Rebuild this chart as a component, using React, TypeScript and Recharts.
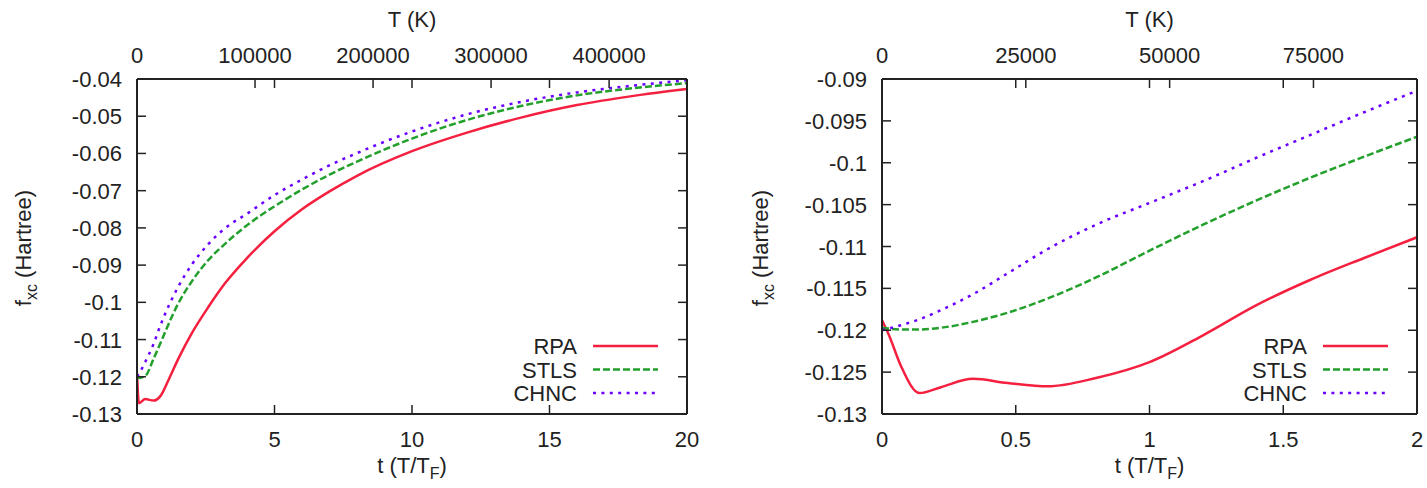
import { LineChart, Line, XAxis, YAxis, Legend } from 'recharts';

const FONT = '"Liberation Sans", Arial, Helvetica, sans-serif';
const INK = '#222';

// ---- left panel (t = T/T_F from 0 to 20) ----
const leftT = [0, 0.07, 0.3, 0.6, 0.85, 1.15, 1.5, 2, 2.6, 3.2, 4, 5, 6, 7, 8, 10, 12, 14, 16, 18, 20];
const leftRPA = [-0.119, -0.1271, -0.126, -0.1264, -0.1252, -0.1208, -0.1152, -0.1082, -0.1012, -0.0949, -0.0881, -0.0809, -0.075, -0.0702, -0.066, -0.0594, -0.0544, -0.0503, -0.047, -0.0446, -0.0427];
const leftSTLS = [-0.12, -0.1203, -0.1198, -0.1152, -0.111, -0.1058, -0.1003, -0.0943, -0.0886, -0.0843, -0.0793, -0.0742, -0.0697, -0.0657, -0.0622, -0.056, -0.051, -0.0472, -0.0444, -0.0425, -0.0411];
const leftCHNC = [-0.12, -0.1192, -0.116, -0.1112, -0.1062, -0.101, -0.0958, -0.0898, -0.0843, -0.0801, -0.0762, -0.0712, -0.067, -0.0632, -0.0599, -0.0541, -0.0495, -0.0461, -0.0436, -0.0418, -0.0403];
const leftTicksT = [0, 5, 10, 15, 20];
const leftTicksK = [0, 100000, 200000, 300000, 400000];
const leftMaxK = 466000;
const leftTicksF = [-0.13, -0.12, -0.11, -0.1, -0.09, -0.08, -0.07, -0.06, -0.05, -0.04];

// ---- right panel (t from 0 to 2) ----
const rightT = [0, 0.025, 0.07, 0.14, 0.22, 0.34, 0.47, 0.62, 0.8, 1, 1.2, 1.4, 1.6, 1.8, 2];
const rightRPA = [-0.1188, -0.1205, -0.1242, -0.1275, -0.1268, -0.1258, -0.1263, -0.1267, -0.1257, -0.1238, -0.1206, -0.117, -0.114, -0.1114, -0.1089];
const rightSTLS = [-0.1197, -0.1198, -0.1199, -0.1199, -0.1197, -0.119, -0.1179, -0.1162, -0.1137, -0.1105, -0.1074, -0.1045, -0.1018, -0.0993, -0.0969];
const rightCHNC = [-0.12, -0.1198, -0.1194, -0.1187, -0.1176, -0.1157, -0.1132, -0.1103, -0.1074, -0.1048, -0.1022, -0.0994, -0.0967, -0.094, -0.0914];
const rightTicksT = [0, 0.5, 1, 1.5, 2];
const rightTicksK = [0, 25000, 50000, 75000];
const rightMaxK = 93000;
const rightTicksF = [-0.13, -0.125, -0.12, -0.115, -0.11, -0.105, -0.1, -0.095, -0.09];

const series = [
  { key: 'rpa', name: 'RPA', color: '#f5203f', dash: undefined as string | undefined },
  { key: 'stls', name: 'STLS', color: '#23a02c', dash: '7 3' },
  { key: 'chnc', name: 'CHNC', color: '#6a00ff', dash: '3 5.4' },
];

// plot box inside each chart (local px)
const PLOT_TOP = 79;
const PLOT_BOTTOM = 414;
const PLOT_LEFT = 137;
const TICK = 9;

const fmt = (v: number) => String(Number(v.toFixed(4)));

function Panel({ left, width, plotRight, t, rpa, stls, chnc, ticksT, ticksK, maxK, ticksF }: any) {
  const rows = t.map((tt: number, i: number) => ({ t: tt, rpa: rpa[i], stls: stls[i], chnc: chnc[i] }));
  const tMax = ticksT[ticksT.length - 1];
  // top axis (kelvin) shares the t scale: T = t * maxK / tMax
  const kTickPos = ticksK.map((k: number) => (k * tMax) / maxK);

  const BottomTick = ({ x, payload }: any) => (
    <g>
      <line x1={x} x2={x} y1={PLOT_BOTTOM} y2={PLOT_BOTTOM - TICK} stroke={INK} strokeWidth={1.5} />
      <line x1={x} x2={x} y1={PLOT_TOP} y2={PLOT_TOP + TICK} stroke={INK} strokeWidth={1.5} />
      <text x={x} y={447} textAnchor="middle" fontSize={22} fill={INK} fontFamily={FONT}>{fmt(payload.value)}</text>
    </g>
  );
  const TopTick = ({ x, payload }: any) => (
    <g>
      <line x1={x} x2={x} y1={PLOT_TOP} y2={PLOT_TOP + TICK} stroke={INK} strokeWidth={1.5} />
      <text x={x} y={63} textAnchor="middle" fontSize={22} fill={INK} fontFamily={FONT}>
        {Math.round((payload.value * maxK) / tMax)}
      </text>
    </g>
  );
  const LeftTick = ({ y, payload }: any) => (
    <g>
      <line x1={PLOT_LEFT} x2={PLOT_LEFT + TICK} y1={y} y2={y} stroke={INK} strokeWidth={1.5} />
      <line x1={plotRight} x2={plotRight - TICK} y1={y} y2={y} stroke={INK} strokeWidth={1.5} />
      <text x={PLOT_LEFT - 15} y={y + 8} textAnchor="end" fontSize={22} fill={INK} fontFamily={FONT}>{fmt(payload.value)}</text>
    </g>
  );

  const LegendBox = () => (
    <svg width={230} height={75} style={{ display: 'block' }}>
      {series.map((s, i) => (
        <g key={s.key}>
          <text x={137} y={16 + i * 23.5 + 8} textAnchor="end" fontSize={22} fill={INK} fontFamily={FONT}>{s.name}</text>
          <line x1={153} x2={218} y1={16 + i * 23.5} y2={16 + i * 23.5} stroke={s.color} strokeWidth={2.5} strokeDasharray={s.dash} />
        </g>
      ))}
    </svg>
  );

  return (
    <div style={{ position: 'absolute', left, top: 0, width, height: 488 }}>
      <LineChart width={width} height={488} data={rows} margin={{ top: 39, right: width - plotRight - 1, bottom: 34, left: 77 }}>
        <XAxis
          xAxisId="t"
          dataKey="t"
          type="number"
          domain={[0, tMax]}
          ticks={ticksT}
          interval={0}
          allowDataOverflow
          height={40}
          tick={<BottomTick />}
          tickLine={false}
          axisLine={{ stroke: INK, strokeWidth: 2 }}
        />
        <XAxis
          xAxisId="K"
          dataKey="t"
          orientation="top"
          type="number"
          domain={[0, tMax]}
          ticks={kTickPos}
          interval={0}
          allowDataOverflow
          height={40}
          tick={<TopTick />}
          tickLine={false}
          axisLine={{ stroke: INK, strokeWidth: 2 }}
        />
        <YAxis
          yAxisId="f"
          type="number"
          domain={[ticksF[0], ticksF[ticksF.length - 1]]}
          ticks={ticksF}
          interval={0}
          allowDataOverflow
          width={60}
          tick={<LeftTick />}
          tickLine={false}
          axisLine={{ stroke: INK, strokeWidth: 2 }}
        />
        <YAxis
          yAxisId="r"
          orientation="right"
          type="number"
          domain={[ticksF[0], ticksF[ticksF.length - 1]]}
          allowDataOverflow
          width={1}
          tick={false}
          tickLine={false}
          axisLine={{ stroke: INK, strokeWidth: 2 }}
        />
        {/* invisible carrier so the kelvin axis gets a domain */}
        <Line
          xAxisId="K"
          yAxisId="f"
          dataKey="rpa"
          stroke="none"
          dot={false}
          activeDot={false}
          legendType="none"
          isAnimationActive={false}
        />
        {series.map((s) => (
          <Line
            key={s.key}
            xAxisId="t"
            yAxisId="f"
            type="monotone"
            dataKey={s.key}
            name={s.name}
            stroke={s.color}
            strokeWidth={2.5}
            strokeDasharray={s.dash}
            dot={false}
            isAnimationActive={false}
          />
        ))}
        <Legend
          layout="horizontal"
          verticalAlign="middle"
          align="center"
          content={<LegendBox />}
          wrapperStyle={{ position: 'absolute', left: plotRight - 247, top: 330, width: 230, height: 75 }}
        />
      </LineChart>
    </div>
  );
}

function Titles() {
  const txt = { fontSize: 22, fill: INK, fontFamily: FONT } as const;
  const panels = [
    { cx: 412, yl: 31 },
    { cx: 1149.5, yl: 768 },
  ];
  return (
    <svg width={1427} height={488} style={{ position: 'absolute', left: 0, top: 0, pointerEvents: 'none' }}>
      {panels.map((p, i) => (
        <g key={i}>
          <text x={p.cx} y={27} textAnchor="middle" {...txt}>T (K)</text>
          <text x={p.cx} y={473} textAnchor="middle" {...txt}>
            t (T/T<tspan dy={6} fontSize={16}>F</tspan><tspan dy={-6}>)</tspan>
          </text>
          <text transform={`translate(${p.yl},248) rotate(-90)`} textAnchor="middle" {...txt}>
            f<tspan dy={6} fontSize={16}>xc</tspan><tspan dy={-6}> (Hartree)</tspan>
          </text>
        </g>
      ))}
    </svg>
  );
}

export default function App() {
  return (
    <div style={{ position: 'absolute', left: 0, top: 0, width: 1427, height: 488, background: '#fff', fontFamily: FONT }}>
      <Panel left={0} width={720} plotRight={687} t={leftT} rpa={leftRPA} stls={leftSTLS} chnc={leftCHNC}
        ticksT={leftTicksT} ticksK={leftTicksK} maxK={leftMaxK} ticksF={leftTicksF} />
      <Panel left={745} width={682} plotRight={672} t={rightT} rpa={rightRPA} stls={rightSTLS} chnc={rightCHNC}
        ticksT={rightTicksT} ticksK={rightTicksK} maxK={rightMaxK} ticksF={rightTicksF} />
      <Titles />
    </div>
  );
}
